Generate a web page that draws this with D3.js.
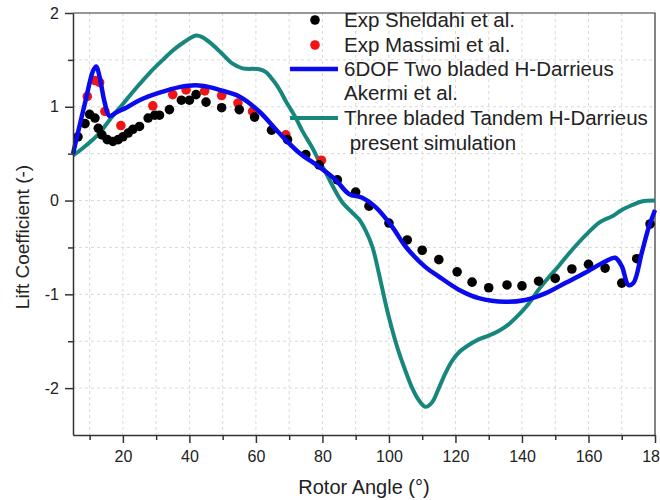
<!DOCTYPE html>
<html lang="en">
<head>
<meta charset="utf-8">
<title>Lift Coefficient vs Rotor Angle</title>
<style>
  body { margin: 0; background: #fff; }
  svg text { font-family: Arial, "Liberation Sans", sans-serif; fill: #222; }
  .grid line { stroke: #d9d9d9; stroke-dasharray: 3,3; }
  .axis path, .axis line { stroke: #333; stroke-width: 1.5; }
  .axis text { font-size: 16px; }
</style>
</head>
<body>
<script src="https://d3js.org/d3.v7.min.js"></script>
<script>
// Three bladed Tandem H-Darrieus, present simulation
const tandemAngle = [5, 8, 11, 13, 16, 20, 24, 28, 32, 35, 38, 42, 44, 47, 50, 53, 56, 61, 63, 65, 67, 69, 72, 74, 77, 79, 81, 83, 86, 89, 91, 93, 95, 97, 99, 101, 103, 105, 107, 109, 111, 113, 115, 117, 119, 121, 124, 127, 130, 133, 136, 139, 142, 145, 148, 151, 154, 157, 160, 163, 165, 167, 170, 173, 176, 180];
const tandemCl = [0.48, 0.56, 0.65, 0.72, 0.86, 1.03, 1.2, 1.36, 1.5, 1.6, 1.68, 1.76, 1.74, 1.66, 1.56, 1.46, 1.41, 1.4, 1.37, 1.29, 1.19, 1.06, 0.88, 0.74, 0.56, 0.42, 0.3, 0.16, -0.02, -0.13, -0.2, -0.32, -0.49, -0.78, -1.1, -1.38, -1.62, -1.82, -2.0, -2.13, -2.2, -2.15, -2.0, -1.84, -1.71, -1.62, -1.54, -1.48, -1.44, -1.39, -1.32, -1.22, -1.1, -0.95, -0.82, -0.7, -0.57, -0.45, -0.34, -0.24, -0.2, -0.17, -0.1, -0.05, -0.01, 0.0];

// 6DOF two bladed H-Darrieus, Akermi et al.
const akermiAngle = [5, 7, 9, 11, 12, 13, 14.5, 16, 18, 21, 25, 31, 37, 42, 46, 49, 55, 61, 67, 73, 79, 84, 88, 92, 96, 101, 105, 111, 115, 121, 127, 135, 141, 147, 153, 159, 165, 168, 170, 172, 173.5, 176, 178, 180];
const akermiCl = [0.5, 0.8, 1.1, 1.38, 1.43, 1.32, 1.05, 0.9, 0.94, 0.99, 1.07, 1.15, 1.21, 1.23, 1.21, 1.18, 1.11, 0.95, 0.72, 0.51, 0.36, 0.22, 0.07, 0.03, -0.07, -0.28, -0.49, -0.71, -0.81, -0.95, -1.04, -1.08, -1.06, -0.99, -0.88, -0.77, -0.65, -0.61, -0.7, -0.9, -0.88, -0.56, -0.3, -0.1];

// Exp Sheldahi et al.
const sheldahiAngle = [6.5, 8.6, 10, 11.6, 12.6, 13.7, 15.3, 17, 18.6, 20, 21.6, 23, 25, 27.6, 29.6, 31, 34, 37.6, 40, 42, 45, 49.7, 55, 59.6, 64.7, 69.5, 75, 79, 84.5, 90, 94, 100, 105.5, 110, 115, 120.5, 125, 130, 135.5, 140, 145, 150, 155, 160, 165, 170, 174.5, 178.5];
const sheldahiCl = [0.68, 0.82, 0.92, 0.88, 0.77, 0.7, 0.65, 0.63, 0.65, 0.68, 0.72, 0.76, 0.79, 0.88, 0.91, 0.91, 0.97, 1.07, 1.07, 1.13, 1.05, 0.99, 0.97, 0.89, 0.75, 0.65, 0.49, 0.38, 0.22, 0.09, -0.06, -0.24, -0.42, -0.53, -0.63, -0.76, -0.87, -0.93, -0.9, -0.91, -0.86, -0.83, -0.73, -0.68, -0.72, -0.88, -0.62, -0.25];

// Exp Massimi et al.
const massimiAngle = [9.3, 11.6, 13, 14.6, 19.4, 29, 35, 39, 44.6, 49.7, 54.6, 59, 69, 79.7];
const massimiCl = [1.11, 1.28, 1.26, 0.95, 0.8, 1.01, 1.13, 1.18, 1.17, 1.12, 1.04, 0.95, 0.7, 0.43];

const xMajor = [20, 40, 60, 80, 100, 120, 140, 160, 180];
const xMinor = [10, 30, 50, 70, 90, 110, 130, 150, 170];
const yMajor = [-2, -1, 0, 1, 2];
const yMinor = [-1.5, -0.5, 0.5, 1.5];

const legendLabels = ["Exp Sheldahi et al.", "Exp Massimi et al.", "6DOF Two bladed H-Darrieus", "Akermi et al.", "Three bladed Tandem H-Darrieus", " present simulation"];

const W = 660, H = 500;
const pLeft = 73, pRight = 655, pTop = 13, pBottom = 435;

const svg = d3.select("body").append("svg")
    .attr("width", W)
    .attr("height", H);

const x = d3.scaleLinear().domain([5, 180]).range([pLeft, pRight]);
const y = d3.scaleLinear().domain([-2.5, 2]).range([pBottom, pTop]);

const zip = (a, b) => a.map((v, i) => [v, b[i]]);

// grid
const grid = svg.append("g").attr("class", "grid");
grid.selectAll(".gx")
    .data(d3.range(10, 180, 10))
    .join("line")
    .attr("x1", d => x(d)).attr("x2", d => x(d))
    .attr("y1", pTop).attr("y2", pBottom);
grid.selectAll(".gy")
    .data(d3.range(-2, 2, 0.5))
    .join("line")
    .attr("x1", pLeft).attr("x2", pRight)
    .attr("y1", d => y(d)).attr("y2", d => y(d));

// frame (top & right)
svg.append("path")
    .attr("d", `M${pLeft},${pTop}H${pRight}V${pBottom}`)
    .attr("fill", "none")
    .attr("stroke", "#333")
    .attr("stroke-width", 1.2);

// lines
const line = d3.line()
    .x(d => x(d[0]))
    .y(d => y(d[1]))
    .curve(d3.curveCatmullRom.alpha(0.5));

svg.append("path")
    .datum(zip(tandemAngle, tandemCl))
    .attr("d", line)
    .attr("fill", "none")
    .attr("stroke", "#17877e")
    .attr("stroke-width", 4);

// dots
svg.append("g").selectAll("circle")
    .data(zip(massimiAngle, massimiCl))
    .join("circle")
    .attr("cx", d => x(d[0]))
    .attr("cy", d => y(d[1]))
    .attr("r", 4.8)
    .attr("fill", "#f01414");

svg.append("g").selectAll("circle")
    .data(zip(sheldahiAngle, sheldahiCl))
    .join("circle")
    .attr("cx", d => x(d[0]))
    .attr("cy", d => y(d[1]))
    .attr("r", 4.8)
    .attr("fill", "#000");

svg.append("path")
    .datum(zip(akermiAngle, akermiCl))
    .attr("d", line)
    .attr("fill", "none")
    .attr("stroke", "#0a0aee")
    .attr("stroke-width", 4.5)
    .attr("stroke-linejoin", "round");

// axes
svg.append("g")
    .attr("class", "axis")
    .attr("transform", `translate(0,${pBottom})`)
    .call(d3.axisBottom(x).tickValues(xMinor).tickSize(5).tickFormat(""))
    .call(g => g.select(".domain").remove());
svg.append("g")
    .attr("class", "axis")
    .attr("transform", `translate(0,${pBottom})`)
    .call(d3.axisBottom(x).tickValues(xMajor).tickSize(8).tickSizeOuter(0).tickPadding(8));

svg.append("g")
    .attr("class", "axis")
    .attr("transform", `translate(${pLeft},0)`)
    .call(d3.axisLeft(y).tickValues(yMinor).tickSize(5).tickFormat(""))
    .call(g => g.select(".domain").remove());
svg.append("g")
    .attr("class", "axis")
    .attr("transform", `translate(${pLeft},0)`)
    .call(d3.axisLeft(y).tickValues(yMajor).tickSize(8).tickSizeOuter(0).tickPadding(6).tickFormat(d => String(d)));

// axis titles
svg.append("text")
    .attr("x", (pLeft + pRight) / 2)
    .attr("y", 494)
    .attr("text-anchor", "middle")
    .attr("font-size", 20)
    .text("Rotor Angle (°)");

svg.append("text")
    .attr("transform", "translate(29,237) rotate(-90)")
    .attr("text-anchor", "middle")
    .attr("font-size", 19)
    .text("Lift Coefficient (-)");

// legend
const lg = svg.append("g");
const rowY = [20, 45, 69, 93, 118, 143];
lg.append("circle").attr("cx", 315).attr("cy", rowY[0]).attr("r", 4.8).attr("fill", "#000");
lg.append("circle").attr("cx", 315).attr("cy", rowY[1]).attr("r", 4.8).attr("fill", "#f01414");
lg.append("line").attr("x1", 290).attr("x2", 338).attr("y1", rowY[2]).attr("y2", rowY[2])
    .attr("stroke", "#0a0aee").attr("stroke-width", 4.5);
lg.append("line").attr("x1", 290).attr("x2", 338).attr("y1", rowY[4]).attr("y2", rowY[4])
    .attr("stroke", "#17877e").attr("stroke-width", 4);
lg.selectAll("text")
    .data(legendLabels)
    .join("text")
    .attr("x", 344)
    .attr("y", (d, i) => rowY[i])
    .attr("dy", "0.35em")
    .attr("font-size", 20.5)
    .style("white-space", "pre")
    .text(d => d);
</script>
</body>
</html>
